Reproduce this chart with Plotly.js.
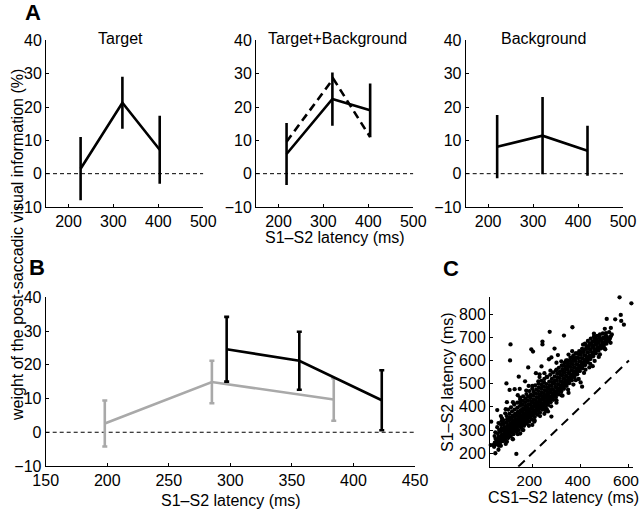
<!DOCTYPE html>
<html>
<head>
<meta charset="utf-8">
<script src="https://cdn.plot.ly/plotly-3.0.1.min.js"></script>
<style>html,body{margin:0;padding:0;background:#fff;}#chart{width:640px;height:509px;}</style>
</head>
<body>
<div id="chart"></div>
<script>
// ---------- Panel A data ----------
const targetX = [227, 320, 403];
const targetY = [1.5, 21.3, 7.2];
const targetErr = [9.5, 7.8, 10.2];

const tbX = [218, 320, 404];
const tbY = [5.9, 22.4, 19.0];
const tbErr = [9.3, 8.0, 8.1];
const tbDashX = [218, 322, 404];
const tbDashY = [9.6, 28.5, 11.0];

const bgX = [220, 321, 421];
const bgY = [8.1, 11.4, 6.9];
const bgErr = [9.5, 11.6, 7.5];

// ---------- Panel B data ----------
const bBlackX = [297, 356, 423];
const bBlackY = [24.6, 21.2, 9.5];
const bBlackErr = [9.6, 8.6, 8.9];
const bGrayX = [198, 285, 384];
const bGrayY = [2.6, 14.9, 9.7];
const bGrayErr = [6.8, 6.3, 6.3];

// ---------- Tick labels ----------
const aXTicks = [200, 300, 400, 500];
const aYTicks = [-10, 0, 10, 20, 30, 40];
const bXTicks = [150, 200, 250, 300, 350, 400, 450];
const cXTicks = [200, 400, 600];
const cYTicks = [200, 300, 400, 500, 600, 700, 800];

// ---------- Panel C data: [CS1-S2 latency, S1-S2 latency] (ms) ----------
const latencyPairs = [
[42,228],[45,246],[48,262],[44,274],[50,238],[47,290],[52,252],[40,236],
[56,240],[58,258],[61,272],[57,286],[63,300],[60,248],[64,265],[55,312],[62,232],
[67,246],[70,262],[72,279],[68,294],[74,308],[71,322],[75,255],[69,270],[73,338],
[78,252],[80,268],[83,284],[79,298],[86,312],[82,326],[85,262],[81,342],[87,290],[84,276],
[89,258],[92,274],[95,290],[90,304],[97,318],[93,332],[96,346],[91,282],[98,300],[94,360],
[100,266],[103,282],[106,298],[101,312],[108,326],[104,340],[107,354],[102,290],[109,306],[105,370],
[111,274],[114,290],[117,306],[112,320],[119,334],[115,348],[118,362],[113,298],[120,314],[116,380],[110,328],
[122,282],[125,298],[128,314],[123,328],[130,342],[126,356],[129,370],[124,306],[131,322],[127,388],[121,338],
[133,292],[136,306],[139,322],[134,336],[141,350],[137,364],[140,378],[135,314],[142,330],[138,396],[132,346],
[144,300],[147,316],[150,330],[145,344],[152,358],[148,372],[151,386],[146,324],[153,340],[149,404],[143,354],[150,420],
[155,310],[158,324],[161,338],[156,352],[163,366],[159,380],[162,394],[157,332],[164,348],[160,410],[154,362],[161,426],
[166,318],[169,334],[172,348],[167,362],[174,376],[170,390],[173,404],[168,342],[175,356],[171,420],[165,370],[172,436],
[177,328],[180,342],[183,356],[178,370],[185,384],[181,398],[184,412],[179,350],[186,366],[182,428],[176,378],[183,444],
[188,336],[191,352],[194,366],[189,380],[196,394],[192,408],[195,422],[190,360],[197,374],[193,438],[187,388],[194,452],
[199,346],[202,362],[205,376],[200,390],[207,404],[203,418],[206,432],[201,370],[208,384],[204,448],[198,398],[205,464],
[210,356],[213,372],[216,386],[211,400],[218,414],[214,428],[217,442],[212,380],[219,394],[215,458],[209,408],[216,474],
[221,366],[224,382],[227,396],[222,410],[229,424],[225,438],[228,452],[223,390],[230,404],[226,468],[220,418],[227,484],
[232,376],[235,392],[238,406],[233,420],[240,434],[236,448],[239,462],[234,400],[241,414],[237,478],[231,428],[238,494],
[243,388],[246,402],[249,416],[244,430],[251,444],[247,458],[250,472],[245,410],[252,424],[248,488],[242,438],[249,504],
[254,398],[257,412],[260,426],[255,440],[262,454],[258,468],[261,482],[256,420],[263,434],[259,498],[253,448],
[265,408],[268,422],[271,436],[266,450],[273,464],[269,478],[272,492],[267,430],[274,444],[270,508],[264,458],
[276,420],[279,434],[282,448],[277,462],[284,476],[280,490],[283,504],[278,442],[285,456],[281,520],[275,470],
[287,430],[290,444],[293,458],[288,472],[295,486],[291,500],[294,514],[289,452],[296,466],[292,530],
[298,442],[301,456],[304,470],[299,484],[306,498],[302,512],[305,526],[300,464],[307,478],[303,542],
[309,454],[312,468],[315,482],[310,496],[317,510],[313,524],[316,538],[311,476],[318,490],[314,552],
[320,466],[323,480],[326,494],[321,508],[328,522],[324,536],[327,550],[322,488],[329,502],[325,562],
[331,478],[334,492],[337,506],[332,520],[339,534],[335,548],[338,562],[333,500],[340,514],[336,574],
[342,490],[345,504],[348,518],[343,532],[350,546],[346,560],[349,574],[344,512],[351,526],[347,586],
[353,502],[356,516],[359,530],[354,544],[361,558],[357,572],[360,586],[355,524],[362,538],[358,598],
[364,514],[367,528],[370,542],[365,556],[372,570],[368,584],[371,598],[366,536],[373,550],[369,610],
[375,528],[378,542],[381,556],[376,570],[383,584],[379,598],[382,612],[377,550],[384,564],
[386,540],[389,554],[392,568],[387,582],[394,596],[390,610],[393,624],[388,562],[395,576],
[397,554],[400,568],[403,582],[398,596],[405,610],[401,624],[404,636],[399,576],[406,590],
[408,566],[411,580],[414,594],[409,608],[416,622],[412,636],[415,648],[410,588],
[419,580],[422,594],[425,608],[420,622],[427,636],[423,650],[426,660],[421,602],
[430,592],[433,606],[436,620],[431,634],[438,648],[434,660],[437,672],[432,614],
[441,606],[444,620],[447,634],[442,646],[449,658],[445,670],[448,682],
[452,618],[455,632],[458,646],[453,658],[460,670],[456,682],[459,692],
[463,630],[466,644],[469,656],[464,668],[471,680],[467,690],
[474,642],[477,654],[480,666],[475,678],[482,690],[478,698],
[485,652],[488,664],[491,676],[486,688],[493,698],
[496,662],[499,674],[502,686],[497,696],[504,706],
[507,672],[510,684],[513,694],[508,704],
[518,684],[521,694],[525,704],[529,712],
[150,440],[175,470],[200,490],[225,510],[260,530],[300,560],[340,600],[380,630],[420,668],[460,700],
[120,420],[90,390],[70,360],[230,540],[330,580],[250,545],
[120,260],[160,300],[210,340],[260,390],[320,450],[380,515],[440,585],[500,650],[90,240],[60,215],
[60,330],[75,350],[88,372],[100,388],[112,398],[125,410],[138,418],[150,432],[162,445],[176,455],
[188,468],[200,478],[212,492],[226,500],[238,512],[250,520],[262,528],[274,538],[286,548],[298,556],
[310,568],[322,578],[334,590],[346,600],[358,612],[370,622],[382,630],[394,640],[406,650],[418,672],
[430,684],[442,694],[455,702],[468,706],[480,712],[492,716],[505,718],[518,722],[95,420],[140,450],
[185,490],[230,528],[275,556],[320,596],[365,640],[410,668],[455,715],[500,736],[525,740],[170,510],
[215,545],[300,590],[350,625],
[70,232],[95,250],[118,262],[140,282],[163,300],[186,318],[208,336],[232,360],[255,382],[278,402],
[300,428],[325,448],[348,474],[370,496],[392,520],[414,546],[436,570],[458,598],[480,626],[502,648],
[524,676],[150,285],[200,322],[250,370],[300,418],[350,460],[400,505],[450,575],[420,560],[475,615],
[561,872],[610,846],[566,796],[508,779],[543,777],[568,770],[579,754],[366,743],[272,723],[331,707],
[242,681],[242,669],[110,669],[196,648],[203,638],[292,651],[108,600],[269,605],[279,613],[306,623],
[183,570],[238,574],[93,501],[106,473],[127,476],[144,530],[148,477],[55,386],[30,336],[28,235],
[134,197],[47,200],[406,487],[279,358],[265,380]
];
const cX = latencyPairs.map(p => p[0]);
const cY = latencyPairs.map(p => p[1]);
const identityLine = [142, 600];

// ---------- helpers ----------
const W = 640, H = 509;
const px = v => v / W;
const py = v => 1 - v / H;
const FONT = 'Liberation Sans, Arial, Helvetica, sans-serif';
const FS = 16;

function errTrace(x, y, err, xa, ya, color, capw, dash) {
  return {
    x: x, y: y, xaxis: xa, yaxis: ya, type: 'scatter', mode: 'lines',
    line: {color: color, width: 2.6, dash: dash || 'solid'},
    error_y: err ? {type: 'data', array: err, visible: true, color: color, thickness: 2.6, width: capw} : undefined,
    hoverinfo: 'skip', showlegend: false
  };
}
function zeroTrace(x0, x1, xa, ya) {
  return {x: [x0, x1], y: [0, 0], xaxis: xa, yaxis: ya, type: 'scatter', mode: 'lines',
    line: {color: 'black', width: 1, dash: '4px,3px'}, hoverinfo: 'skip', showlegend: false};
}

const traces = [
  zeroTrace(150, 500, 'x', 'y'),
  errTrace(targetX, targetY, targetErr, 'x', 'y', 'black', 0),
  zeroTrace(150, 500, 'x2', 'y2'),
  {x: tbDashX, y: tbDashY, xaxis: 'x2', yaxis: 'y2', type: 'scatter', mode: 'lines',
   line: {color: 'black', width: 2.6, dash: '8px,5px'}, hoverinfo: 'skip', showlegend: false},
  errTrace(tbX, tbY, tbErr, 'x2', 'y2', 'black', 0),
  zeroTrace(150, 500, 'x3', 'y3'),
  errTrace(bgX, bgY, bgErr, 'x3', 'y3', 'black', 0),
  zeroTrace(150, 450, 'x4', 'y4'),
  errTrace(bGrayX, bGrayY, bGrayErr, 'x4', 'y4', '#a9a9a9', 2.5),
  errTrace(bBlackX, bBlackY, bBlackErr, 'x4', 'y4', 'black', 2.5),
  {x: identityLine, y: identityLine, xaxis: 'x5', yaxis: 'y5', type: 'scatter', mode: 'lines',
   line: {color: 'black', width: 2, dash: '9px,6px'}, hoverinfo: 'skip', showlegend: false},
  {x: cX, y: cY, xaxis: 'x5', yaxis: 'y5', type: 'scatter', mode: 'markers', cliponaxis: false,
   marker: {color: 'black', size: 4.3, line: {width: 0}}, hoverinfo: 'skip', showlegend: false}
];

function ax(domain, range, tickvals, anchor, extra) {
  return Object.assign({
    domain: domain, range: range, tickvals: tickvals, anchor: anchor,
    showline: true, linecolor: 'black', linewidth: 1, mirror: false,
    ticks: 'inside', ticklen: 3, tickcolor: 'black', tickwidth: 1,
    showgrid: false, zeroline: false, fixedrange: true, ticklabeloverflow: 'allow',
    tickfont: {family: FONT, size: FS, color: 'black'}
  }, extra || {});
}

const aYDom = [py(207), py(40.4)];
const layout = {
  width: W, height: H,
  margin: {l: 0, r: 0, t: 0, b: 0},
  paper_bgcolor: 'white', plot_bgcolor: 'white',
  showlegend: false,
  font: {family: FONT, size: FS, color: 'black'},
  xaxis: ax([px(46), px(203.3)], [150, 500], aXTicks, 'y'),
  yaxis: ax(aYDom, [-10, 40], aYTicks, 'x'),
  xaxis2: ax([px(256), px(413.3)], [150, 500], aXTicks, 'y2'),
  yaxis2: ax(aYDom, [-10, 40], aYTicks, 'x2'),
  xaxis3: ax([px(465.7), px(623)], [150, 500], aXTicks, 'y3'),
  yaxis3: ax(aYDom, [-10, 40], aYTicks, 'x3'),
  xaxis4: ax([px(45.7), px(415)], [150, 450], bXTicks, 'y4'),
  yaxis4: ax([py(466), py(297.3)], [-10, 40], aYTicks, 'x4'),
  xaxis5: ax([px(490), px(632.6)], [25, 615], cXTicks, 'y5', {tickfont: {family: FONT, size: 15.5, color: 'black'}, ticklabelshift: -3}),
  yaxis5: ax([py(466.7), py(296.6)], [142, 875], cYTicks, 'x5'),
  annotations: [
    {text: '<b>A</b>', x: px(33), y: py(12), font: {size: 22}},
    {text: '<b>B</b>', x: px(37), y: py(267), font: {size: 22}},
    {text: '<b>C</b>', x: px(451), y: py(268), font: {size: 22}},
    {text: 'Target', x: px(120), y: py(39)},
    {text: 'Target+Background', x: px(337.5), y: py(39)},
    {text: 'Background', x: px(543.7), y: py(39)},
    {text: 'weight of the post-saccadic visual information (%)', x: px(17), y: py(245), textangle: -90},
    {text: 'S1–S2 latency (ms)', x: px(335), y: py(237)},
    {text: 'S1–S2 latency (ms)', x: px(231), y: py(500)},
    {text: 'S1–S2 latency (ms)', x: px(447), y: py(382), textangle: -90},
    {text: 'CS1–S2 latency (ms)', x: px(563), y: py(497)}
  ].map(a => Object.assign({xref: 'paper', yref: 'paper', showarrow: false,
      xanchor: 'center', yanchor: 'middle', font: Object.assign({family: FONT, size: FS, color: 'black'}, a.font || {})}, a))
};

Plotly.newPlot('chart', traces, layout, {staticPlot: true, displayModeBar: false});
</script>
</body>
</html>
